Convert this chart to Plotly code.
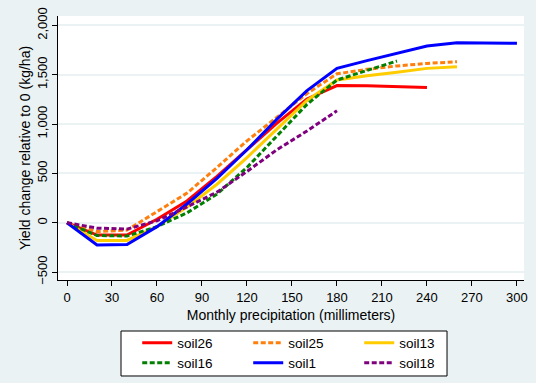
import plotly.graph_objects as go

precip = [0, 20, 40, 60, 80, 100, 120, 140, 160, 180, 200, 220, 240, 260, 280, 300]

soil26 = [0, -125, -125, 35, 220, 470, 740, 1010, 1255, 1390, 1388, 1382, 1370]
soil25 = [0, -90, -75, 110, 300, 560, 830, 1070, 1310, 1510, 1555, 1590, 1615, 1632]
soil13 = [0, -180, -180, -40, 160, 390, 660, 950, 1240, 1447, 1490, 1525, 1565, 1582]
soil16 = [0, -130, -135, -40, 100, 290, 560, 880, 1200, 1447, 1545, 1640]
soil1 = [0, -226, -222, -40, 190, 450, 740, 1050, 1340, 1565, 1643, 1718, 1792, 1825, 1825, 1820]
soil18 = [0, -55, -65, 20, 160, 310, 520, 740, 930, 1135]

x_ticks = [0, 30, 60, 90, 120, 150, 180, 210, 240, 270, 300]
y_ticks = [-500, 0, 500, 1000, 1500, 2000]

# (name, values, colour, dash, legend row)
series = [
    ("soil26", soil26, "#FF0000", "solid", "legend"),
    ("soil25", soil25, "#FF7F0E", "5px,2.5px", "legend"),
    ("soil13", soil13, "#FFCC00", "solid", "legend"),
    ("soil16", soil16, "#007F00", "5px,2.5px", "legend2"),
    ("soil1", soil1, "#0000FF", "solid", "legend2"),
    ("soil18", soil18, "#7F007F", "5px,2.5px", "legend2"),
]

FONT = "Liberation Sans, Arial, sans-serif"

fig = go.Figure()
for name, vals, color, dash, leg in series:
    fig.add_trace(go.Scatter(
        x=precip[:len(vals)], y=vals, name=name, mode="lines",
        line=dict(color=color, width=3, dash=dash), legend=leg,
    ))

bg = "#EAF2F3"
legend_common = dict(
    orientation="h", xanchor="left", yanchor="middle",
    bgcolor="rgba(0,0,0,0)", borderwidth=0,
    entrywidth=66, entrywidthmode="pixels",
    font=dict(size=13.5), tracegroupgap=0,
)
fig.update_layout(
    width=536, height=383,
    margin=dict(l=58, r=12, t=16, b=103, autoexpand=False),
    paper_bgcolor=bg, plot_bgcolor="white",
    font=dict(family=FONT, size=13, color="black"),
    showlegend=True,
    legend=dict(x=0.17, y=-0.2386, **legend_common),
    legend2=dict(x=0.17, y=-0.3144, **legend_common),
    shapes=[dict(
        type="rect", xref="paper", yref="paper",
        x0=0.1352, x1=0.8348, y0=-0.3636, y1=-0.1932,
        line=dict(color="black", width=1), fillcolor="white", layer="above",
    )],
    xaxis=dict(
        range=[-6, 304.7], tickvals=x_ticks, ticks="outside", ticklen=5,
        tickcolor="black", showline=True, linecolor="black", linewidth=1,
        showgrid=False, zeroline=False, automargin=False,
        title=dict(text="Monthly precipitation (millimeters)", standoff=6,
                   font=dict(size=14)),
    ),
    yaxis=dict(
        range=[-581, 2096], tickvals=y_ticks, tickformat=",d", tickangle=-90,
        ticks="outside", ticklen=5, tickcolor="black",
        showline=True, linecolor="black", linewidth=1,
        showgrid=True, gridcolor=bg, gridwidth=1.5, zeroline=False,
        automargin=False,
        title=dict(text="Yield change relative to 0 (kg/ha)", standoff=0,
                   font=dict(size=14)),
    ),
)

fig.write_html(
    "out.html",
    config={"displayModeBar": False},
    post_script="document.body.style.margin='0';document.body.style.overflow='hidden';",
)
